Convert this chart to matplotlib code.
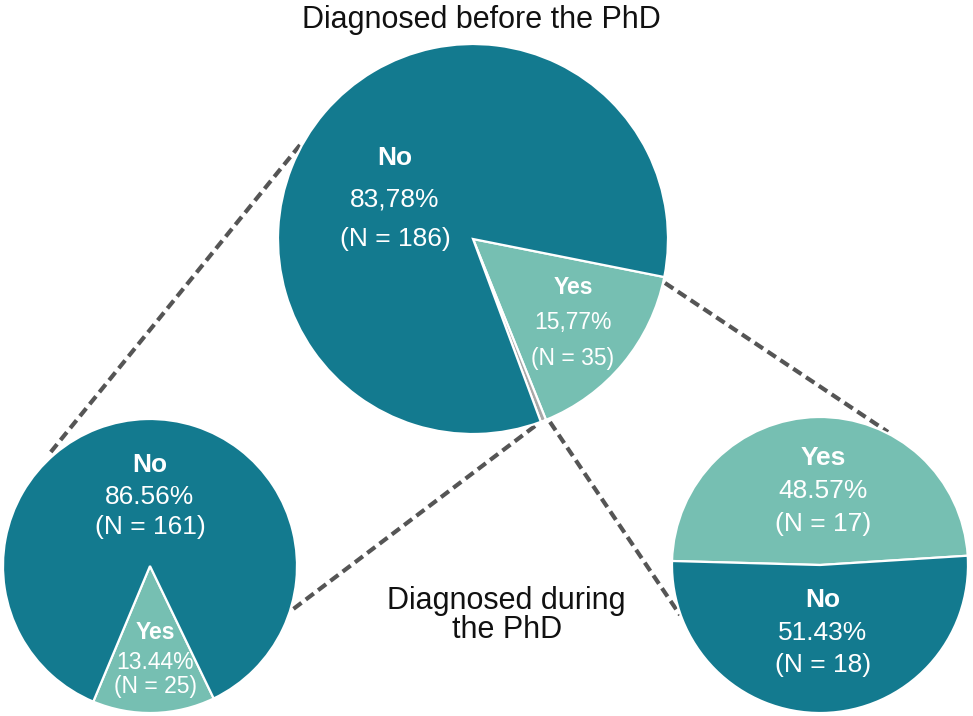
import matplotlib
matplotlib.use("Agg")
import matplotlib.pyplot as plt

plt.rcParams['font.family'] = ['Liberation Sans', 'DejaVu Sans']

# ---------------- data ----------------
top_categories = ["Yes", "Missing", "No"]
top_values = [15.77, 0.45, 83.78]
top_counts = [35, 1, 186]
top_pct_text = ["15,77%", "", "83,78%"]

during_categories = ["Yes", "No"]          # diagnosed during the PhD (left pie)
during_values = [13.44, 86.56]
during_counts = [25, 161]
during_pct_text = ["13.44%", "86.56%"]

before_categories = ["Yes", "No"]          # split of the "Yes" group (right pie)
before_values = [48.57, 51.43]
before_counts = [17, 18]
before_pct_text = ["48.57%", "51.43%"]

title_top = "Diagnosed before the PhD"
title_mid = ["Diagnosed during", "the PhD"]

# ---------------- style ----------------
DARK = "#137A8F"
LIGHT = "#76BFB2"
GAP = "#A8A8A8"
W, H = 973, 716

fig = plt.figure(figsize=(W / 100, H / 100), dpi=100)
ax = fig.add_axes([0, 0, 1, 1])
ax.set_xlim(0, W)
ax.set_ylim(0, H)
ax.set_aspect('equal')
ax.axis('off')


def Y(py):
    return H - py


wp = dict(edgecolor='white', linewidth=1.6)

# top pie
ax.pie(top_values, colors=[LIGHT, GAP, DARK], startangle=-11.25, counterclock=False,
       center=(473, Y(239)), radius=195, wedgeprops=wp, frame=True)
# bottom-left pie
ax.pie(during_values, colors=[LIGHT, DARK], startangle=-112.7, counterclock=True,
       center=(150, Y(566)), radius=147, wedgeprops=wp, frame=True)
# bottom-right pie
ax.pie(before_values, colors=[LIGHT, DARK], startangle=3.6, counterclock=True,
       center=(820, Y(565)), radius=148, wedgeprops=wp, frame=True)

ax.set_xlim(0, W)
ax.set_ylim(0, H)
ax.axis('off')

# dashed connectors
connectors = [((300, 145), (50, 453)), ((535, 426), (292, 610)),
              ((665, 283), (888, 432)), ((550, 422), (680, 615))]
for (x0, y0), (x1, y1) in connectors:
    ax.plot([x0, x1], [Y(y0), Y(y1)], color='#555555', lw=3.0,
            linestyle=(0, (2.4, 1.3)), solid_capstyle='butt', zorder=0)


def label(x, baselines, cat, pct, n, size):
    ax.text(x, Y(baselines[0]), cat, color='white', fontsize=size, fontweight='bold',
            ha='center', va='baseline', zorder=5)
    ax.text(x, Y(baselines[1]), pct, color='white', fontsize=size,
            ha='center', va='baseline', zorder=5)
    ax.text(x, Y(baselines[2]), f"(N = {n})", color='white', fontsize=size,
            ha='center', va='baseline', zorder=5)


# top pie labels
label(395, (165, 207, 246), top_categories[2], top_pct_text[2], top_counts[2], 19)
label(573, (294, 329, 365), top_categories[0], top_pct_text[0], top_counts[0], 16.5)
# bottom-left labels
label(150, (472, 504, 534), during_categories[1], during_pct_text[1], during_counts[1], 19)
label(155, (639, 669, 693), during_categories[0], during_pct_text[0], during_counts[0], 16.5)
# bottom-right labels
label(823, (465, 498, 531), before_categories[0], before_pct_text[0], before_counts[0], 19)
label(823, (607, 640, 672), before_categories[1], before_pct_text[1], before_counts[1], 19)

ax.text(481, Y(28), title_top, color='#111111', fontsize=22, ha='center', va='baseline')
ax.text(506, Y(609), title_mid[0], color='#111111', fontsize=22, ha='center', va='baseline')
ax.text(507, Y(638), title_mid[1], color='#111111', fontsize=22, ha='center', va='baseline')

fig.savefig("out.png", dpi=100, facecolor='white')
